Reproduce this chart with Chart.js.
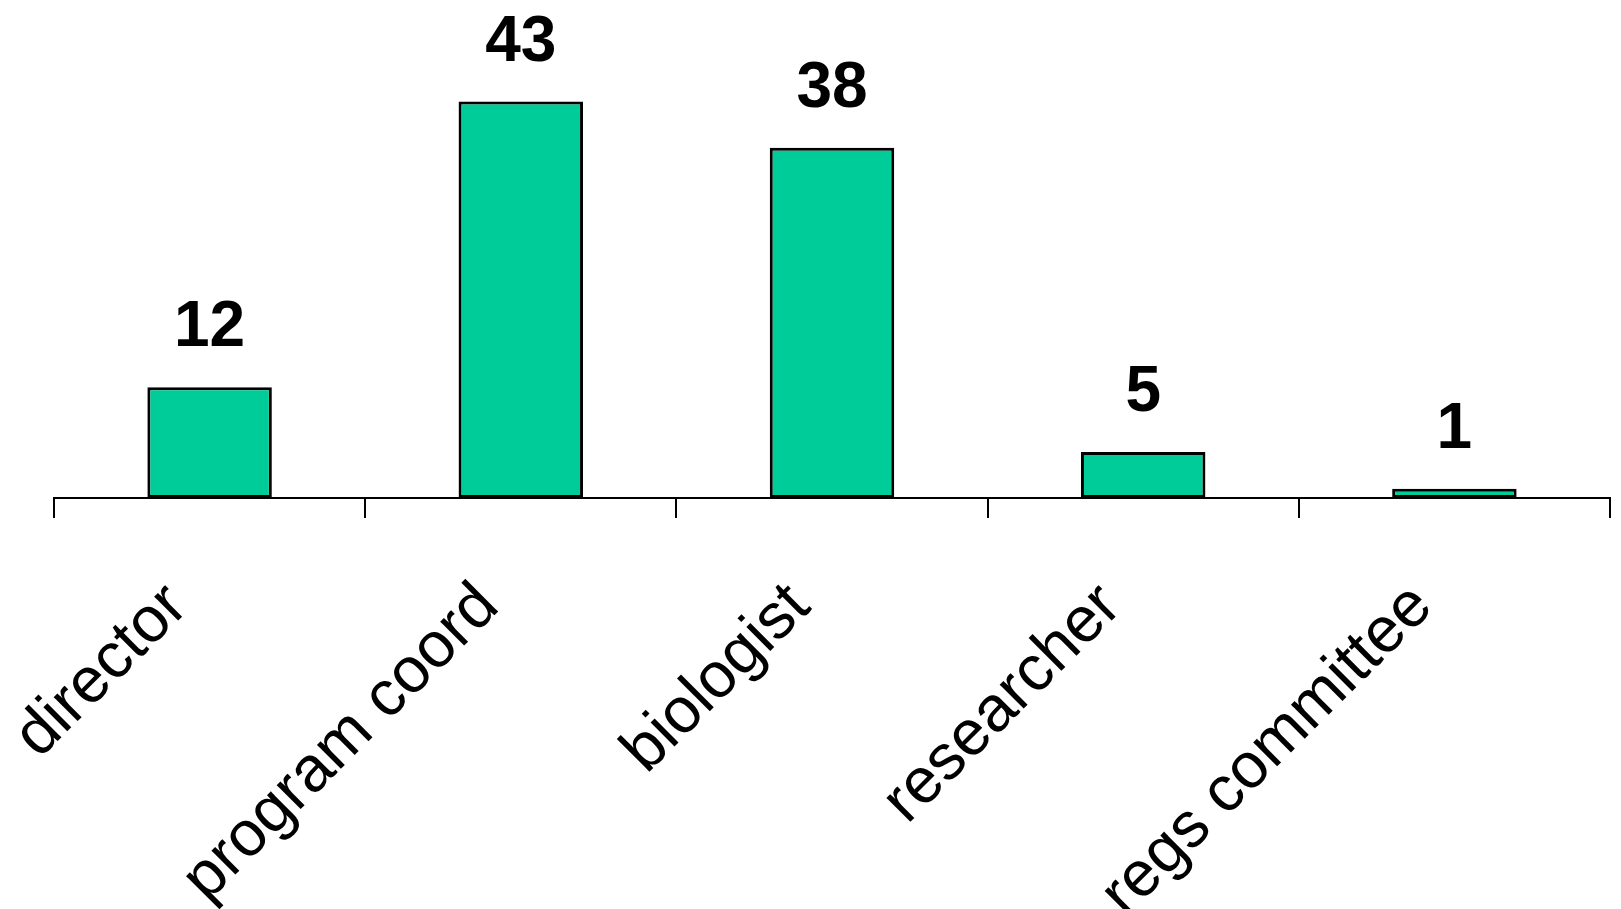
<!DOCTYPE html>
<html>
<head>
<meta charset="utf-8">
<script src="https://cdn.jsdelivr.net/npm/chart.js@4"></script>
<style>
  html, body { margin: 0; padding: 0; background: #fff; }
  #wrap { width: 1621px; height: 909px; position: relative; }
</style>
</head>
<body>
<div id="wrap"><canvas id="roleChart"></canvas></div>
<script>
// ==============================
// DATA
// ==============================
const categories = ["director", "program coord", "biologist", "researcher", "regs committee"];
const counts     = [12, 43, 38, 5, 1];

// ==============================
// VALUE LABELS (no datalabels plugin available)
// ==============================
const valueLabels = {
    id: "valueLabels",
    afterDatasetsDraw(chart){
        const ctx = chart.ctx;
        const meta = chart.getDatasetMeta(0);
        ctx.save();
        ctx.font = "bold 64px 'Liberation Sans', Arial, sans-serif";
        ctx.fillStyle = "#000";
        ctx.textAlign = "center";
        ctx.textBaseline = "alphabetic";
        meta.data.forEach((bar, i) => {
            ctx.fillText(String(counts[i]), bar.x, bar.y - 41);
        });
        ctx.restore();
    }
};

// ==============================
// CHART
// ==============================
Chart.defaults.font.family = "'Liberation Sans', Arial, sans-serif";
Chart.defaults.color = "#000";

const ctx = document.getElementById("roleChart").getContext("2d");

new Chart(ctx, {
    type: "bar",
    data: {
        labels: categories,
        datasets: [{
            data: counts,
            backgroundColor: "#00CC99",
            borderColor: "#000",
            borderWidth: 3,
            borderSkipped: false,
            barPercentage: 0.4,
            categoryPercentage: 1.0
        }]
    },
    options: {
        responsive: true,
        maintainAspectRatio: false,
        animation: false,
        layout: {
            padding: { left: 54, right: 11, top: 37, bottom: 0 }
        },
        plugins: {
            legend: { display: false },
            tooltip: { enabled: false }
        },
        scales: {
            x: {
                afterFit(scale){ scale.height = 411; },
                border: { display: true, color: "#000", width: 2 },
                grid: {
                    offset: true,
                    drawOnChartArea: false,
                    drawTicks: true,
                    tickLength: 20,
                    color: "#000",
                    lineWidth: 2
                },
                ticks: {
                    autoSkip: false,
                    minRotation: 45,
                    maxRotation: 45,
                    padding: 51,
                    labelOffset: -32,
                    color: "#000",
                    font: { size: 64 }
                }
            },
            y: {
                display: false,
                min: 0,
                max: 50
            }
        }
    },
    plugins: [valueLabels]
});
</script>
</body>
</html>
